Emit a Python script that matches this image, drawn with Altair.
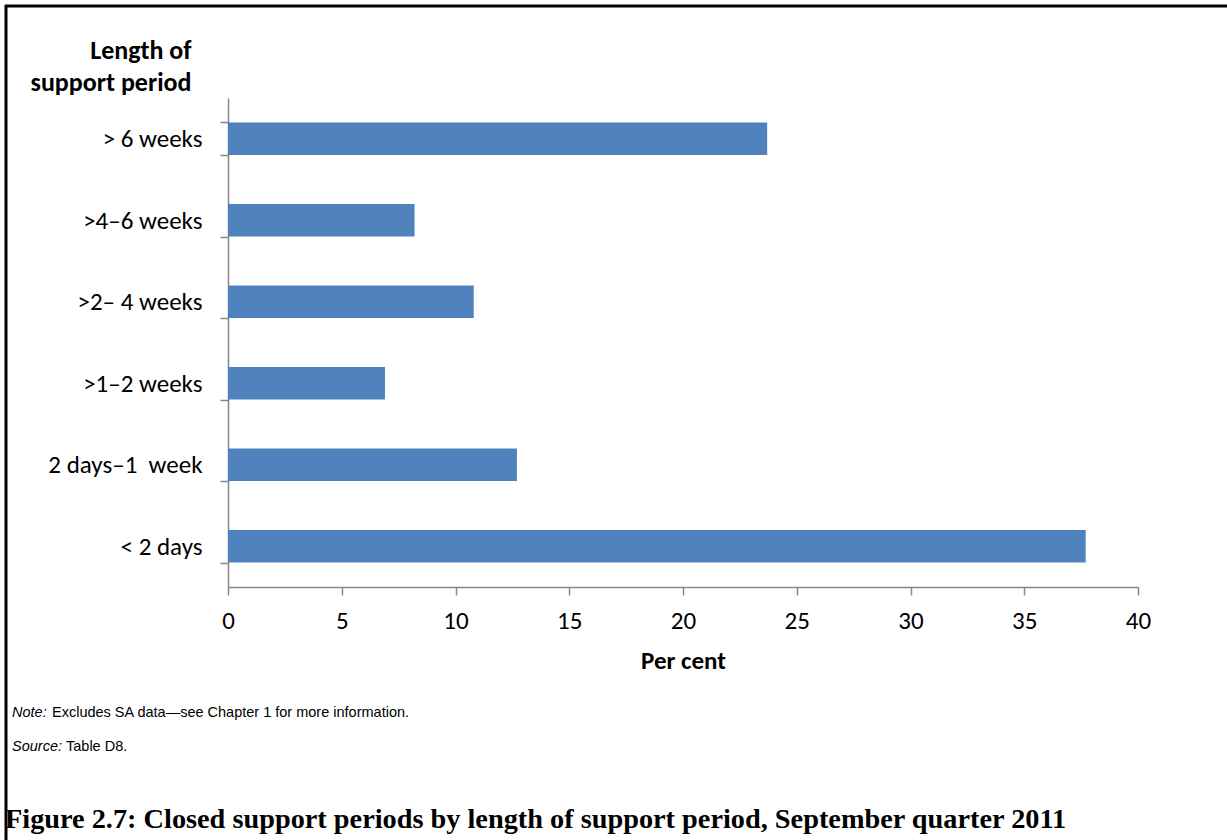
import altair as alt
import pandas as pd

# Length of closed support period, per cent of all closed periods
periods = ["> 6 weeks", ">4–6 weeks", ">2– 4 weeks", ">1–2 weeks", "2 days–1\u00a0 week", "< 2 days"]
per_cent = [23.7, 8.2, 10.8, 6.9, 12.7, 37.7]

x_ticks = [0, 5, 10, 15, 20, 25, 30, 35, 40]

note_label = "Note:"
note_text = "Excludes SA data—see Chapter 1 for more information."
source_label = "Source:"
source_text = "Table D8."
caption = "Figure 2.7: Closed support periods by length of support period, September quarter 2011"

df = pd.DataFrame({"period": periods, "pct": per_cent})

# plot-area geometry (page is 1227 x 840)
LEFT, TOP, W, H = 228, 98, 910, 489
RIGHT = 1227 - LEFT - W
BOTTOM = 840 - TOP - H

AXIS_GREY = "#868686"
LABEL_FONT = "Carlito, Lato"
LABEL_SIZE = 25

bars = alt.Chart(df).mark_bar(color="#4F81BD").encode(
    x=alt.X(
        "pct:Q",
        scale=alt.Scale(domain=[0, 40], nice=False, zero=True),
        axis=alt.Axis(
            values=x_ticks,
            title="Per cent",
            titleFont=LABEL_FONT,
            titleFontSize=LABEL_SIZE,
            titleFontWeight="bold",
            titleColor="black",
            titlePadding=15,
            labelFont=LABEL_FONT,
            labelFontSize=LABEL_SIZE,
            labelColor="black",
            labelPadding=13,
            labelFlush=False,
            tickSize=8,
            tickColor=AXIS_GREY,
            tickWidth=1.5,
            domainColor=AXIS_GREY,
            domainWidth=1.5,
            grid=False,
        ),
    ),
    y=alt.Y(
        "period:N",
        sort=periods,
        scale=alt.Scale(paddingInner=0.6, paddingOuter=0.3),
        axis=alt.Axis(
            title=["Length of", "support period"],
            titleAngle=0,
            titleAlign="right",
            titleBaseline="alphabetic",
            titleX=-37,
            titleY=-40,
            titleLineHeight=32,
            titleFont=LABEL_FONT,
            titleFontSize=26,
            titleFontWeight="bold",
            titleColor="black",
            labelFont=LABEL_FONT,
            labelFontSize=LABEL_SIZE,
            labelColor="black",
            labelPadding=18,
            tickBand="extent",
            tickSize=8,
            tickColor=AXIS_GREY,
            tickWidth=1.5,
            domainColor=AXIS_GREY,
            domainWidth=1.5,
            grid=False,
        ),
    ),
)

one = pd.DataFrame({"k": [0]})


def text_at(text, x, y, **kw):
    return alt.Chart(one).mark_text(align="left", baseline="alphabetic", **kw).encode(
        x=alt.value(x - LEFT), y=alt.value(y - TOP), text=alt.value(text)
    )


notes = alt.layer(
    text_at(note_label, 12, 717, font="Liberation Sans", fontSize=14.5, fontStyle="italic"),
    text_at(note_text, 52, 717, font="Liberation Sans", fontSize=14.5),
    text_at(source_label, 12, 751, font="Liberation Sans", fontSize=14.5, fontStyle="italic"),
    text_at(source_text, 66, 751, font="Liberation Sans", fontSize=14.5),
    text_at(caption, 5, 828, font="Liberation Serif", fontSize=28.3, fontWeight="bold"),
)

# frame around the figure (left and top edges)
frame_left = alt.Chart(one).mark_rule(color="black", strokeWidth=3).encode(
    x=alt.value(6 - LEFT), y=alt.value(5 - TOP), y2=alt.value(840 - TOP + 5)
)
frame_top = alt.Chart(one).mark_rule(color="black", strokeWidth=3).encode(
    x=alt.value(5 - LEFT), x2=alt.value(1227 - LEFT + 5), y=alt.value(6 - TOP)
)

chart = alt.layer(bars, notes, frame_left, frame_top).properties(
    width=W,
    height=H,
    padding={"left": LEFT, "top": TOP, "right": RIGHT, "bottom": BOTTOM},
    autosize=alt.AutoSizeParams(type="none"),
    background="white",
).configure_view(stroke=None)

chart.save("out.html", embed_options={"renderer": "svg", "actions": False})
